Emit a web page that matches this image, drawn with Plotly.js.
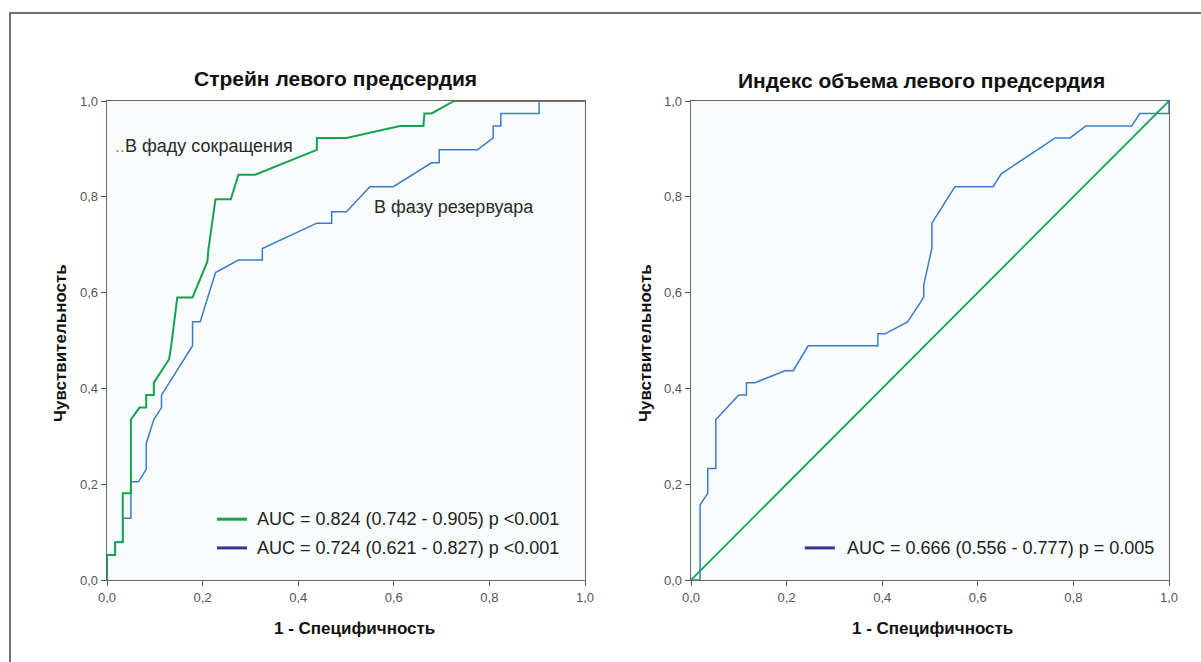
<!DOCTYPE html>
<html>
<head>
<meta charset="utf-8">
<script src="https://cdn.plot.ly/plotly-3.0.1.min.js"></script>
<style>html,body{margin:0;padding:0;background:#fff;}#chart{width:1201px;height:662px;}</style>
</head>
<body>
<div id="chart"></div>
<script>
// Left panel: strain of left atrium
const leftGreenX = [0,0,0.017,0.017,0.033,0.033,0.050,0.050,0.068,0.082,0.082,0.098,0.098,0.130,0.135,0.147,0.179,0.210,0.212,0.227,0.259,0.275,0.310,0.439,0.439,0.501,0.613,0.662,0.664,0.679,0.726,1];
const leftGreenY = [0,0.052,0.052,0.079,0.079,0.181,0.181,0.335,0.360,0.360,0.386,0.386,0.412,0.461,0.494,0.590,0.590,0.665,0.689,0.795,0.795,0.846,0.846,0.898,0.923,0.923,0.948,0.948,0.974,0.974,1,1];
const leftBlueX = [0,0,0.017,0.017,0.033,0.033,0.050,0.050,0.066,0.082,0.082,0.098,0.114,0.114,0.179,0.179,0.195,0.227,0.275,0.325,0.325,0.439,0.470,0.470,0.501,0.550,0.599,0.679,0.695,0.695,0.775,0.808,0.808,0.824,0.824,0.904,0.904,1];
const leftBlueY = [0,0.052,0.052,0.079,0.079,0.129,0.129,0.205,0.205,0.231,0.285,0.335,0.360,0.386,0.489,0.539,0.539,0.642,0.668,0.668,0.692,0.745,0.745,0.769,0.769,0.821,0.821,0.871,0.871,0.898,0.898,0.923,0.948,0.948,0.974,0.974,1,1];
// Right panel: LA volume index
const rightBlueX = [0,0.019,0.019,0.035,0.035,0.052,0.052,0.100,0.116,0.116,0.134,0.197,0.214,0.245,0.391,0.391,0.406,0.453,0.479,0.487,0.487,0.504,0.504,0.552,0.632,0.649,0.762,0.793,0.826,0.922,0.939,1,1];
const rightBlueY = [0,0,0.157,0.181,0.233,0.233,0.335,0.386,0.386,0.412,0.412,0.437,0.437,0.489,0.489,0.514,0.514,0.539,0.578,0.591,0.616,0.693,0.745,0.821,0.821,0.848,0.923,0.923,0.948,0.948,0.974,0.974,1];
const diagX = [0,1];
const diagY = [0,1];

const titles = ["Стрейн левого предсердия", "Индекс объема левого предсердия"];
const yTitle = "Чувствительность";
const xTitle = "1 - Специфичность";
const legendLeft = ["AUC = 0.824 (0.742 - 0.905) p <0.001", "AUC = 0.724 (0.621 - 0.827) p <0.001"];
const legendRight = ["AUC = 0.666 (0.556 - 0.777) p = 0.005"];
const labelsLeft = ["В фаду сокращения", "В фазу резервуара"];
const tickVals = [0,0.2,0.4,0.6,0.8,1.0];

const GREEN = "#16a34f";
const BLUE = "#3a7ccc";
const NAVY = "#2c3a92";
const FONT = "Liberation Sans, Arial, sans-serif";

const traces = [
  {x: leftBlueX, y: leftBlueY, xaxis:"x", yaxis:"y", mode:"lines", line:{color:BLUE, width:1.5}, hoverinfo:"skip"},
  {x: leftGreenX, y: leftGreenY, xaxis:"x", yaxis:"y", mode:"lines", line:{color:GREEN, width:2}, hoverinfo:"skip"},
  {x: diagX, y: diagY, xaxis:"x2", yaxis:"y2", mode:"lines", line:{color:GREEN, width:1.8}, hoverinfo:"skip"},
  {x: rightBlueX, y: rightBlueY, xaxis:"x2", yaxis:"y2", mode:"lines", line:{color:BLUE, width:1.5}, hoverinfo:"skip"}
];

function ax(domain, anchor) {
  return {
    domain: domain, anchor: anchor, range:[0,1], tickvals: tickVals, tickformat: ".1f",
    showgrid:false, zeroline:false, showline:true, linecolor:"#666", linewidth:1.3,
    mirror:true, ticks:"outside", ticklen:5, tickcolor:"#555", tickwidth:1,
    tickfont:{family:FONT, size:13, color:"#555"}, fixedrange:true
  };
}

const yDom = [1-580/662, 1-101/662];
const layout = {
  width:1201, height:662, margin:{l:0,r:0,t:0,b:0},
  paper_bgcolor:"#ffffff", plot_bgcolor:"#f8fcfc", showlegend:false,
  separators:", ",
  xaxis: ax([107/1201, 585/1201], "y"),
  yaxis: ax(yDom, "x"),
  xaxis2: ax([691/1201, 1169/1201], "y2"),
  yaxis2: ax(yDom, "x2"),
  shapes: [
    {type:"rect", xref:"paper", yref:"paper", x0:10/1201, x1:1.02, y0:-0.02, y1:1-13/662, line:{color:"#444", width:1.5}, fillcolor:"rgba(0,0,0,0)", layer:"below"},
    {type:"line", xref:"x", yref:"y", x0:0.230, x1:0.293, y0:0.127, y1:0.127, line:{color:GREEN, width:3}},
    {type:"line", xref:"x", yref:"y", x0:0.230, x1:0.293, y0:0.067, y1:0.067, line:{color:NAVY, width:3}},
    {type:"line", xref:"x2", yref:"y2", x0:0.238, x1:0.301, y0:0.067, y1:0.067, line:{color:NAVY, width:3}}
  ],
  annotations: [
    {text:"<b>"+titles[0]+"</b>", xref:"paper", yref:"paper", x:335/1201, y:1-78/662, xanchor:"center", yanchor:"middle", showarrow:false, font:{family:FONT, size:21, color:"#111"}},
    {text:"<b>"+titles[1]+"</b>", xref:"paper", yref:"paper", x:921/1201, y:1-80/662, xanchor:"center", yanchor:"middle", showarrow:false, font:{family:FONT, size:21, color:"#111"}},
    {text:"<b>"+yTitle+"</b>", xref:"paper", yref:"paper", x:60/1201, y:1-343/662, xanchor:"center", yanchor:"middle", textangle:-90, showarrow:false, font:{family:FONT, size:17, color:"#111"}},
    {text:"<b>"+yTitle+"</b>", xref:"paper", yref:"paper", x:645/1201, y:1-343/662, xanchor:"center", yanchor:"middle", textangle:-90, showarrow:false, font:{family:FONT, size:17, color:"#111"}},
    {text:"<b>"+xTitle+"</b>", xref:"paper", yref:"paper", x:355/1201, y:1-628/662, xanchor:"center", yanchor:"middle", showarrow:false, font:{family:FONT, size:17, color:"#111"}},
    {text:"<b>"+xTitle+"</b>", xref:"paper", yref:"paper", x:932/1201, y:1-628/662, xanchor:"center", yanchor:"middle", showarrow:false, font:{family:FONT, size:17, color:"#111"}},
    {text:legendLeft[0], xref:"x", yref:"y", x:0.310, y:0.127, xanchor:"left", yanchor:"middle", showarrow:false, font:{family:FONT, size:18, color:"#222"}},
    {text:legendLeft[1], xref:"x", yref:"y", x:0.310, y:0.067, xanchor:"left", yanchor:"middle", showarrow:false, font:{family:FONT, size:18, color:"#222"}},
    {text:legendRight[0], xref:"x2", yref:"y2", x:0.322, y:0.067, xanchor:"left", yanchor:"middle", showarrow:false, font:{family:FONT, size:18, color:"#222"}},
    {text:"<span style='color:#d08a3a'>..</span>"+labelsLeft[0], xref:"x", yref:"y", x:0.012, y:0.906, xanchor:"left", yanchor:"middle", showarrow:false, font:{family:FONT, size:18, color:"#2a2a2a"}},
    {text:labelsLeft[1], xref:"x", yref:"y", x:0.554, y:0.779, xanchor:"left", yanchor:"middle", showarrow:false, font:{family:FONT, size:18, color:"#2a2a2a"}}
  ]
};

Plotly.newPlot("chart", traces, layout, {staticPlot:true, displayModeBar:false});
</script>
</body>
</html>
